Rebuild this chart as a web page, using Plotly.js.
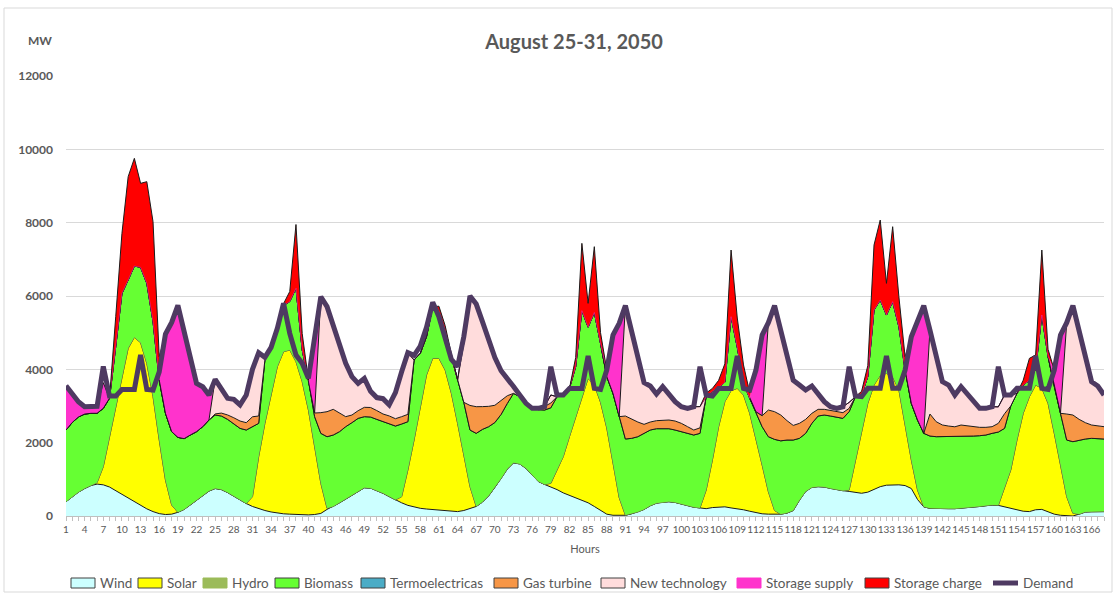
<!DOCTYPE html>
<html>
<head>
<meta charset="utf-8">
<script src="https://cdn.plot.ly/plotly-3.0.1.min.js"></script>
<style>
  html, body { margin: 0; padding: 0; background: #ffffff; }
  #chart { width: 1116px; height: 595px; }
</style>
</head>
<body>
<div id="chart"></div>
<script>
// Hours 1..168 (category positions)
const hours = [];
for (let h = 1; h <= 168; h++) hours.push(h);

const wind = [
390,520,650,750,830,870,850,790,690,590,480,380,285,195,120,65,40,50,100,180,300,430,560,680,
750,720,640,540,430,340,260,200,150,110,80,60,50,40,35,30,40,70,180,260,360,460,560,670,
770,760,700,620,530,440,360,290,240,210,190,180,170,150,130,120,150,200,260,380,550,780,1020,1280,
1450,1420,1300,1120,940,860,800,720,630,560,500,440,360,260,150,50,20,10,20,60,110,180,280,350,
380,390,370,320,280,240,220,200,230,250,250,220,200,170,130,90,60,50,50,50,80,150,430,670,
780,800,790,750,720,690,670,650,620,650,720,800,840,850,850,830,750,450,250,210,200,200,200,200,
210,230,250,260,280,300,290,250,200,160,130,120,170,180,120,50,20,10,0,50,110,120,120,120];

const solar = [
0,0,0,0,0,40,495,1373,2291,3210,4092,4492,4442,3968,3134,2007,942,250,0,0,0,0,0,0,
0,0,0,0,0,0,267,1418,2377,3235,3992,4421,4477,4169,3628,2860,1850,821,30,0,0,0,0,0,
0,0,0,0,0,0,167,964,1832,2771,3655,4120,4130,3831,3215,2407,1468,600,0,0,0,0,0,0,
0,0,0,0,0,0,90,534,988,1603,2209,2814,3394,3312,2950,2350,1430,490,0,0,0,0,0,0,
0,0,0,0,0,0,0,509,1297,2186,2868,3198,3281,3130,2670,2028,1330,614,100,0,0,0,0,0,
0,0,0,0,0,0,40,877,1725,2422,2852,3036,3050,2950,2586,1606,777,259,0,0,0,0,0,0,
0,0,0,0,0,0,0,550,1054,1912,2670,3134,3402,3301,2952,2204,1325,517,73,0,0,0,0,0];

const hydro = [
0,0,0,0,0,0,0,0,0,0,0,0,0,0,0,0,0,0,0,0,0,0,0,0,
0,0,0,0,0,0,0,0,0,0,0,0,0,0,0,0,0,0,0,0,0,0,0,0,
0,0,0,0,0,0,0,0,0,0,0,0,0,0,0,0,0,0,0,0,0,0,0,0,
0,0,0,0,0,0,0,0,0,0,0,0,0,0,0,0,0,0,0,0,0,0,0,0,
0,0,0,0,0,0,0,0,0,0,0,0,0,0,0,0,0,0,0,0,0,0,0,0,
0,0,0,0,0,0,0,0,0,0,0,0,0,0,0,0,0,0,0,0,0,0,0,0,
0,0,0,0,0,0,0,0,0,0,0,0,0,0,0,0,0,0,0,0,0,0,0,0];

const biomass = [
1955,2030,2050,2030,1970,1891,1591,1046,1637,2272,1864,1946,2054,2182,2046,1637,1818,2000,2045,1929,1909,1870,1876,1938,
2004,2007,1996,1969,1960,2005,1909,909,1727,1195,988,1259,1323,2000,864,819,819,1363,1953,1949,1940,1976,1985,1993,
1939,1940,1936,1952,1979,2014,1982,1318,2182,1455,1045,1409,1272,1091,1000,1182,1482,1545,1994,1983,1886,1770,1750,1790,
1895,1834,1800,1816,1960,2030,2060,2000,1682,1318,1363,2346,1396,1978,1600,1400,1895,2209,2080,2058,2053,2074,2065,2031,
2010,1991,1975,1980,1974,1969,2034,2545,1873,1064,532,2018,1119,320,409,727,1046,1499,1940,2000,1992,1922,1688,1584,
1747,1927,1964,1977,1970,1973,2135,1723,955,728,2046,2054,1591,2045,1727,1545,1545,1909,2004,1971,1963,1963,1963,1963,
1971,1951,1931,1930,1929,1954,2000,1590,1746,1273,772,446,428,2000,1273,1273,1455,1545,1954,2022,1990,1998,1980,1980];

const thermo = [
0,0,0,0,0,0,0,0,0,0,0,0,0,0,0,0,0,0,0,0,0,0,0,0,
0,0,0,0,0,0,0,0,0,0,0,0,0,0,0,0,0,0,0,0,0,0,0,0,
0,0,0,0,0,0,0,0,0,0,0,0,0,0,0,0,0,0,0,0,0,0,0,0,
0,0,0,0,0,0,0,0,0,0,0,0,0,0,0,0,0,0,0,0,0,0,0,0,
0,0,0,0,0,0,0,0,0,0,0,0,0,0,0,0,0,0,0,0,0,0,0,0,
0,0,0,0,0,0,0,0,0,0,0,0,0,0,0,0,0,0,0,0,0,0,0,0,
0,0,0,0,0,0,0,0,0,0,0,0,0,0,0,0,0,0,0,0,0,0,0,0];

const gasTurbine = [
0,0,0,0,0,0,0,0,0,0,0,0,0,0,0,0,0,0,0,0,0,0,0,0,
30,80,120,170,200,200,270,200,0,0,0,0,0,0,0,0,100,564,682,700,500,273,209,209,
255,260,240,210,220,200,200,200,0,0,0,0,0,0,0,0,0,670,727,620,555,470,390,210,
0,0,0,0,50,100,130,0,0,0,0,0,0,0,0,0,0,0,627,518,400,246,218,219,
228,237,245,227,182,136,150,0,0,0,0,0,0,0,0,0,300,727,755,704,528,398,409,382,
273,182,155,145,155,155,91,0,0,0,0,0,0,0,0,0,0,0,0,600,409,319,290,270,
300,273,255,228,209,182,237,400,0,0,0,0,0,0,0,0,0,709,727,564,445,363,354,336];

const newTech = [
0,0,0,0,0,0,0,0,0,0,0,0,0,0,0,0,0,0,0,0,0,0,0,0,
943,629,453,501,440,755,1294,1727,73,0,0,0,0,0,0,0,0,3163,2864,2254,1863,1454,1046,746,
790,440,354,418,301,709,1227,1682,0,0,0,0,0,0,0,0,1600,2985,2799,2317,1829,1305,861,529,
150,0,0,0,0,0,220,0,0,0,0,0,0,0,0,0,0,0,3009,2436,1782,1136,982,727,
909,682,528,453,500,635,580,0,0,0,0,0,0,0,0,0,0,2382,2891,2318,1745,1230,1045,800,
745,436,209,109,91,163,164,0,0,0,0,0,0,0,0,0,0,0,0,2291,1773,1181,1118,864,
1046,873,682,518,518,545,450,510,300,0,0,0,0,0,0,0,0,2491,2982,2436,1800,1182,1091,864];

const storageSupply = [
1209,795,418,200,180,181,700,0,0,0,0,0,0,0,0,0,2136,2954,3609,2963,2136,1318,1091,682,
0,0,0,0,0,0,0,0,0,0,0,0,0,0,0,0,2081,0,0,0,0,0,0,0,
0,0,0,0,0,0,0,0,0,0,0,0,0,0,0,0,190,0,0,0,0,0,0,0,
0,0,0,0,0,0,0,0,0,0,0,0,0,0,0,180,1591,2545,0,0,0,0,0,0,
0,0,0,0,0,0,0,0,0,0,0,0,0,0,0,1135,2200,0,0,0,0,0,0,0,
0,0,0,0,0,0,0,0,0,0,0,0,0,0,0,0,1818,2682,3482,0,0,0,0,0,
0,0,0,0,0,0,0,0,0,0,0,0,0,0,0,454,2136,0,0,0,0,0,0,0];

const storageCharge = [
0,0,0,0,0,0,0,0,818,1636,2818,2936,2291,2773,2727,636,0,0,0,0,0,0,0,0,
0,0,0,0,0,0,0,0,0,0,0,50,272,1741,450,0,0,0,0,0,0,0,0,0,
0,0,0,0,0,0,0,0,0,0,0,0,150,120,80,0,0,0,0,0,0,0,0,0,
0,0,0,0,0,0,0,0,0,0,250,1836,650,1795,300,0,0,0,0,0,0,0,0,0,
0,0,0,0,0,0,0,100,80,200,500,1818,800,500,150,0,0,0,0,0,0,0,0,0,
0,0,0,0,0,0,0,0,100,300,1772,2182,864,2045,818,364,0,0,0,0,0,0,0,0,
0,0,0,0,0,0,0,0,0,0,130,600,390,1773,200,0,0,0,0,0,0,0,0,0];

const demand = [
3554,3345,3118,2980,2980,2990,4080,3270,3270,3450,3450,3450,4390,3450,3436,3930,4960,5280,5745,5072,4345,3618,3527,3300,
3727,3436,3209,3180,3030,3300,4000,4454,4327,4600,5118,5800,4981,4390,4163,3754,4890,5981,5709,5163,4663,4163,3800,3618,
3754,3400,3230,3200,3030,3363,3936,4454,4381,4636,5145,5827,5436,4800,4272,4072,4890,6000,5780,5300,4820,4320,3960,3720,
3530,3300,3072,2936,2936,2980,4072,3300,3300,3480,3480,3480,4363,3480,3450,3980,4936,5254,5736,5072,4345,3636,3545,3327,
3527,3300,3118,2980,2936,2980,4072,3300,3272,3480,3470,3480,4363,3480,3436,3980,4936,5272,5736,5072,4345,3700,3572,3436,
3545,3345,3118,2981,2936,2981,4072,3272,3254,3481,3481,3481,4363,3481,3481,3981,4890,5300,5736,5072,4345,3663,3572,3300,
3527,3327,3118,2936,2936,2981,4072,3300,3300,3481,3481,3481,4363,3481,3454,3981,4936,5272,5736,5072,4345,3663,3545,3300];

const seriesNames = ['Wind','Solar','Hydro','Biomass','Termoelectricas','Gas turbine','New technology','Storage supply','Storage charge'];
const seriesValues = [wind, solar, hydro, biomass, thermo, gasTurbine, newTech, storageSupply, storageCharge];
const fillColors = ['#CCFFFF','#FFFF00','#9BBB59','#66FF33','#4BACC6','#F79646','#FFDCDC','#FF33CC','#FF0000'];
const lineWidths = [1, 1, 0, 1, 1, 1, 1, 0, 1];
const demandName = 'Demand';
const demandColor = '#4E3A62';

// x tick labels every 3 hours, minor ticks every hour
const tickText = hours.map(h => ((h - 1) % 3 === 0 ? String(h) : ''));

const traces = seriesNames.map((name, i) => ({
  type: 'scatter',
  mode: 'lines',
  name: name,
  x: hours,
  y: seriesValues[i],
  stackgroup: 'supply',
  fillcolor: fillColors[i],
  line: { color: lineWidths[i] ? '#1a1a1a' : fillColors[i], width: lineWidths[i] || 0.5 },
  showlegend: false
}));

traces.push({
  type: 'scatter',
  mode: 'lines',
  name: demandName,
  x: hours,
  y: demand,
  line: { color: demandColor, width: 5 },
  showlegend: false
});

const fontFam = 'Lato, "Open Sans", "Liberation Sans", sans-serif';

// Plot area in pixels: left 66, right 1104, top 76, bottom 516
const PL = 66, PW = 1038, PB = 516, PH = 440;
const px = v => (v - PL) / PW;
const py = v => (PB - v) / PH;

// Legend drawn as shapes + annotations (single row, like the original)
const legendSwatchX = [71, 138, 203, 275, 361, 494, 601, 737, 865];
const legendDemandX = 991;
const legendY = 583;
const shapes = [{
  type: 'rect', xref: 'paper', yref: 'paper',
  x0: px(4), x1: px(1112), y0: py(592), y1: py(8),
  line: { color: '#D9D9D9', width: 1 },
  fillcolor: 'rgba(0,0,0,0)',
  layer: 'below'
}];
const annotations = [{
  text: 'MW',
  xref: 'paper', yref: 'paper',
  x: px(40), y: py(41),
  xanchor: 'center', yanchor: 'middle',
  showarrow: false,
  font: { family: fontFam, size: 12, color: '#595959', weight: 'bold' }
}];
seriesNames.forEach((name, i) => {
  const x0 = legendSwatchX[i];
  shapes.push({
    type: 'rect', xref: 'paper', yref: 'paper',
    x0: px(x0), x1: px(x0 + 24), y0: py(legendY + 5), y1: py(legendY - 5),
    fillcolor: fillColors[i],
    line: { color: lineWidths[i] ? '#404040' : fillColors[i], width: 1 }
  });
  annotations.push({
    text: name, xref: 'paper', yref: 'paper',
    x: px(x0 + 27), y: py(legendY), xanchor: 'left', yanchor: 'middle',
    showarrow: false,
    font: { family: fontFam, size: 13.5, color: '#595959' }
  });
});
shapes.push({
  type: 'line', xref: 'paper', yref: 'paper',
  x0: px(legendDemandX + 2), x1: px(legendDemandX + 27), y0: py(legendY), y1: py(legendY),
  line: { color: demandColor, width: 5 }
});
annotations.push({
  text: demandName, xref: 'paper', yref: 'paper',
  x: px(legendDemandX + 30), y: py(legendY), xanchor: 'left', yanchor: 'middle',
  showarrow: false,
  font: { family: fontFam, size: 13.5, color: '#595959' }
});

const layout = {
  width: 1116,
  height: 595,
  paper_bgcolor: '#ffffff',
  plot_bgcolor: '#ffffff',
  margin: { l: 66, r: 12, t: 76, b: 79, autoexpand: false },
  font: { family: fontFam, color: '#595959' },
  title: {
    text: 'August 25-31, 2050',
    font: { family: fontFam, size: 20, color: '#595959', weight: 'bold' },
    xref: 'paper', x: px(574), xanchor: 'center',
    yref: 'container', y: 1 - 42 / 595, yanchor: 'middle'
  },
  showlegend: false,
  xaxis: {
    range: [1, 168],
    automargin: false,
    tickmode: 'array',
    tickvals: hours,
    ticktext: tickText,
    ticks: 'outside',
    ticklen: 4,
    tickcolor: '#BFBFBF',
    tickangle: 0,
    tickfont: { family: fontFam, size: 10, color: '#595959' },
    showgrid: false,
    zeroline: false,
    showline: true,
    linecolor: '#BFBFBF',
    linewidth: 1,
    title: { text: 'Hours', font: { family: fontFam, size: 11, color: '#595959' }, standoff: 11 }
  },
  yaxis: {
    range: [0, 12000],
    automargin: false,
    tick0: 0,
    dtick: 2000,
    tickformat: 'd',
    ticks: '',
    ticklabelstandoff: 12,
    tickfont: { family: fontFam, size: 12, color: '#595959', weight: 'bold' },
    showgrid: true,
    gridcolor: '#D9D9D9',
    gridwidth: 1,
    zeroline: false,
    showline: false
  },
  annotations: annotations,
  shapes: shapes
};

Plotly.newPlot('chart', traces, layout, { displayModeBar: false, staticPlot: true });
</script>
</body>
</html>
